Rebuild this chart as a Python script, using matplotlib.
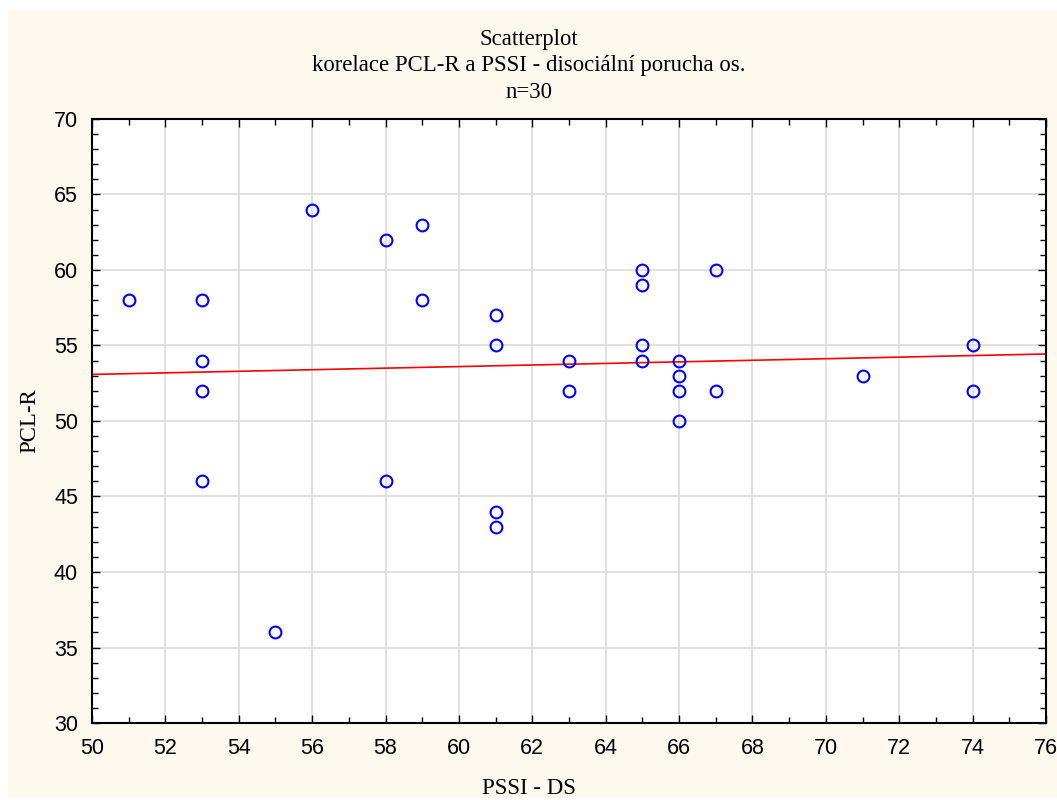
import numpy as np
import matplotlib
matplotlib.use('Agg')
import matplotlib.pyplot as plt
from matplotlib.patches import Rectangle
from matplotlib.ticker import MultipleLocator

# PSSI - DS vs PCL-R
pssi = [51, 53, 53, 53, 53, 55, 56, 58, 58, 59, 59, 61, 61, 61, 61,
        63, 63, 65, 65, 65, 65, 66, 66, 66, 66, 67, 67, 71, 74, 74]
pcl = [58, 58, 54, 52, 46, 36, 64, 62, 46, 63, 58, 57, 55, 44, 43,
       54, 52, 60, 59, 55, 54, 54, 53, 52, 50, 60, 52, 53, 55, 52]

title_lines = ["Scatterplot",
               "korelace PCL-R a PSSI - disociální porucha os.",
               "n=30"]

fig = plt.figure(figsize=(10.57, 8), dpi=100)
fig.patches.append(Rectangle((8 / 1057, 2 / 800), 1, 1 - 12 / 800,
                             transform=fig.transFigure, facecolor='#fdf9ef',
                             edgecolor='none', zorder=-10))
ax = fig.add_axes([92 / 1057, 77 / 800, (1046 - 92) / 1057, (723 - 119) / 800])
ax.set_facecolor('white')

ax.grid(True, which='major', color='#dcdcdc', linewidth=1.2, zorder=0)

xs = np.array(pssi, dtype=float)
ys = np.array(pcl, dtype=float)
k, q = np.polyfit(xs, ys, 1)
lx = np.array([50, 76])
ax.plot(lx, k * lx + q, color='red', linewidth=1.2, zorder=2)

ax.plot(xs, ys, linestyle='none', marker='o', markersize=8.5,
        markerfacecolor='none', markeredgecolor='blue', markeredgewidth=1.5,
        zorder=3)

ax.set_xlim(50, 76)
ax.set_ylim(30, 70)
ax.xaxis.set_major_locator(MultipleLocator(2))
ax.xaxis.set_minor_locator(MultipleLocator(1))
ax.yaxis.set_major_locator(MultipleLocator(5))
ax.yaxis.set_minor_locator(MultipleLocator(1))
ax.tick_params(which='both', direction='in', top=True, right=True,
               labelfontfamily='Liberation Sans', labelsize=15.5, color='black')
ax.tick_params(which='major', length=6, width=1)
ax.tick_params(which='minor', length=4, width=1)
ax.tick_params(axis='x', pad=11)
ax.tick_params(axis='y', pad=10)
for s in ax.spines.values():
    s.set_linewidth(1.5)
    s.set_color('black')

serif = 'Liberation Serif'
for i, t in enumerate(title_lines):
    fig.text(0.5, 1 - (40 + 26 * i) / 800, t, ha='center', va='center',
             family=serif, fontsize=16.4)
fig.text(0.5, 1 - 789 / 800, "PSSI - DS", ha='center', va='center',
         family=serif, fontsize=16.4)
fig.text(30 / 1057, 1 - 421 / 800, "PCL-R", ha='center', va='center',
         rotation=90, family=serif, fontsize=16.4)

fig.savefig('out.png', dpi=100)
